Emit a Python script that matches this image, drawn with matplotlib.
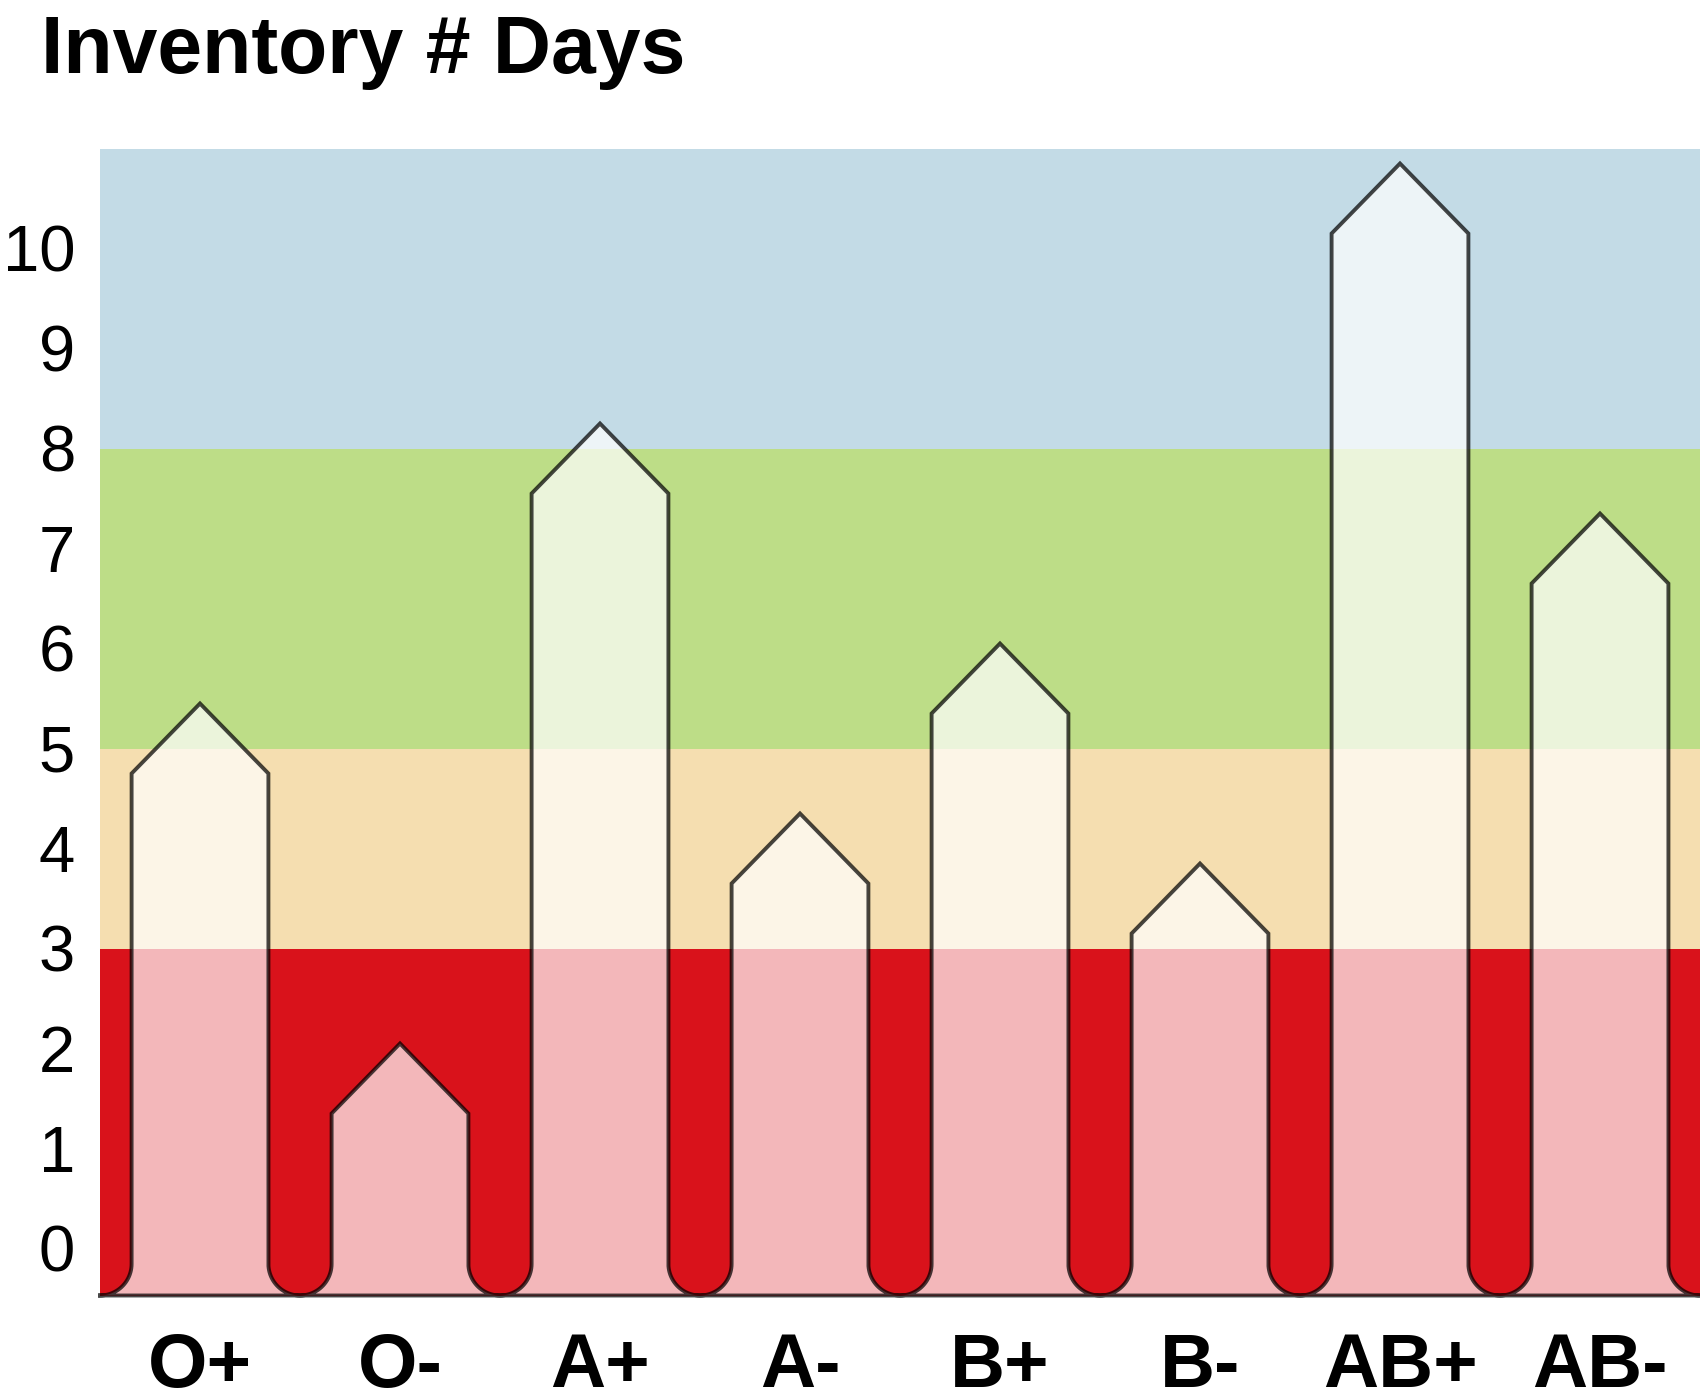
import numpy as np
import matplotlib
matplotlib.use("Agg")
import matplotlib.pyplot as plt

plt.rcParams['font.family'] = ['Liberation Sans', 'DejaVu Sans']

# data
blood_types = ["O+", "O-", "A+", "A-", "B+", "B-", "AB+", "AB-"]
days = [5.1, 1.7, 7.9, 4.0, 5.7, 3.5, 10.5, 7.0]

band_edges = [3, 5, 8]
band_colors = ["#d9121b", "#f5deb0", "#bddd87", "#c3dbe6"]

y_bottom, y_top = -0.47, 11.0
half_w = 0.342      # half bar width in x units
roof = 0.35         # roof half-height
x_pos = np.arange(len(blood_types))

fig = plt.figure(figsize=(17, 14), dpi=100)
ax = fig.add_axes([100 / 1700, 1 - 1295.5 / 1400, 1 - 100 / 1700, (1295.5 - 148.5) / 1400])
ax.set_xlim(-0.5, len(blood_types) - 0.5)
ax.set_ylim(y_bottom, y_top)

# background bands
lows = [y_bottom] + band_edges
highs = band_edges + [y_top]
for lo, hi, c in zip(lows, highs, band_colors):
    ax.axhspan(lo, hi, color=c, lw=0, zorder=0)

# radius of the rounded foot (circle in screen space)
rx = 0.5 - half_w
bb = ax.get_position()
px_x = bb.width * 1700 / (len(blood_types))
px_y = bb.height * 1400 / (y_top - y_bottom)
ry = rx * px_x / px_y

t = np.linspace(0, np.pi / 2, 24)

outline_x, outline_y = [], []
for xc, v in zip(x_pos, days):
    xl, xr = xc - half_w, xc + half_w
    # left foot: from gap centre at baseline, curving up to bar edge
    lx = (xl - rx) + rx * np.sin(t)
    ly = (y_bottom + ry) - ry * np.cos(t)
    # right foot
    rxs = (xr + rx) - rx * np.cos(t)
    rys = (y_bottom + ry) - ry * np.sin(t)
    px = np.concatenate([lx, [xl, xc, xr], rxs])
    py = np.concatenate([ly, [v - roof, v + roof, v - roof], rys])
    ax.fill(px, py, color="white", alpha=0.7, lw=0, zorder=2)
    outline_x.extend(px)
    outline_y.extend(py)

outline_x += [len(blood_types) - 0.5, -0.5]
outline_y += [y_bottom, y_bottom]
ax.plot(outline_x, outline_y, color="black", alpha=0.72, lw=2.8,
        solid_joinstyle="miter", clip_on=False, zorder=3)

for s in ax.spines.values():
    s.set_visible(False)

ax.set_yticks(range(0, 11))
ax.set_yticklabels([str(i) for i in range(0, 11)], fontsize=47)
ax.set_xticks(x_pos)
ax.set_xticklabels(blood_types, fontsize=55, fontweight="bold")
ax.tick_params(axis="y", length=0, pad=18)
ax.tick_params(axis="x", length=0, pad=26)

fig.text(41 / 1700, 1 - 73 / 1400, "Inventory # Days", fontsize=58,
         fontweight="bold", ha="left", va="baseline")

fig.savefig("out.png", dpi=100)
